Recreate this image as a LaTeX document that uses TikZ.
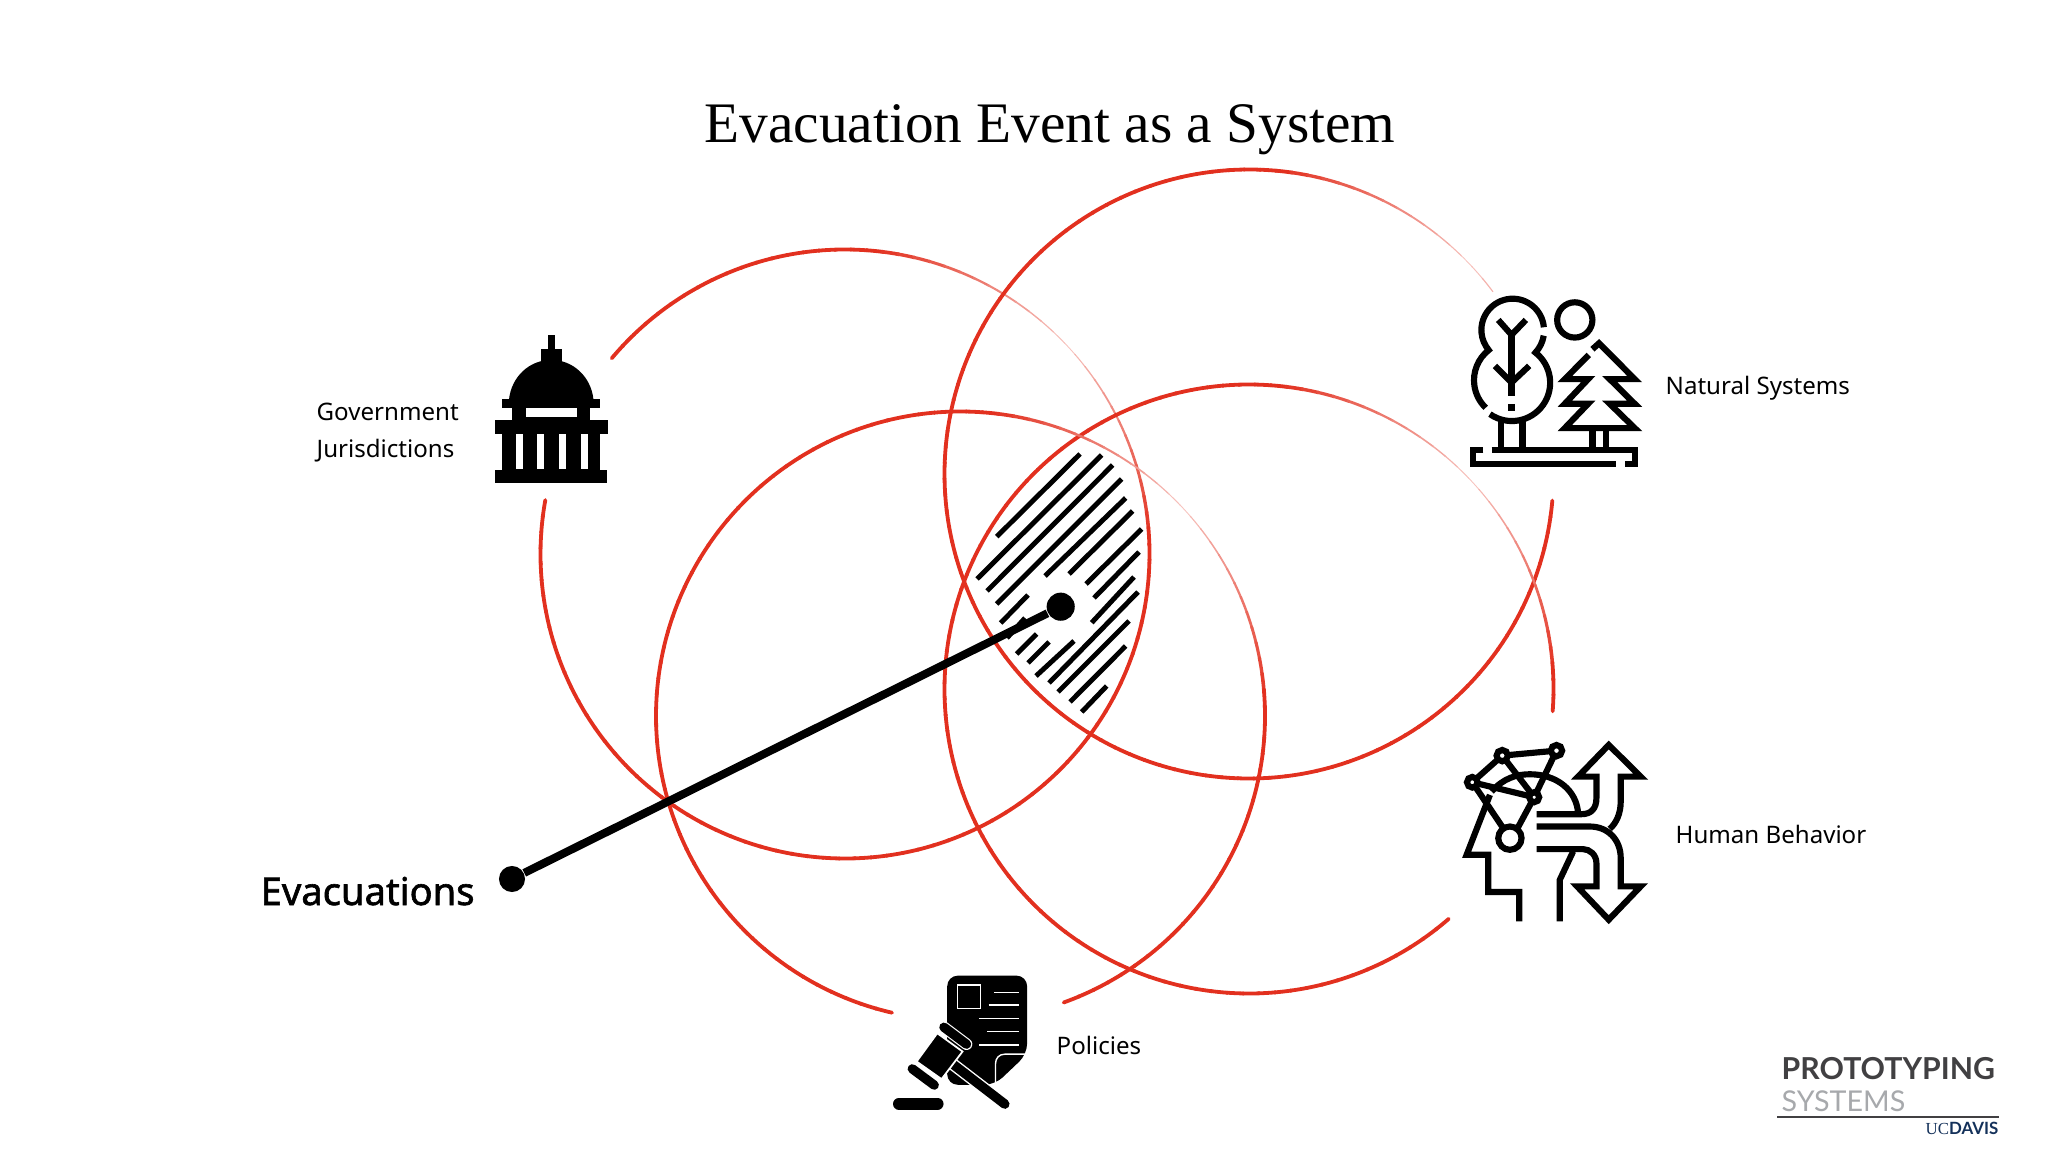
\documentclass[tikz,border=0pt]{standalone}
\usepackage{fontspec}
\setmainfont{Noto Sans}
\newfontfamily\evacfont{Noto Sans}[FakeBold=1.6]
\newfontfamily\titlefont{Liberation Serif}
\newfontfamily\logofont{Lato}
\usetikzlibrary{positioning}
\definecolor{ringred}{HTML}{E2301F}
\definecolor{logodark}{HTML}{414042}
\definecolor{logolight}{HTML}{A7A9AC}
\definecolor{logonavy}{HTML}{14315A}

\begin{document}
\begin{tikzpicture}[
        x=0.01cm,
        y=-0.01cm,
        label/.style={anchor=base west, inner sep=0pt, font=\fontsize{6.85}{9}\selectfont},
        ringseg/.style={line cap=round},
        hatch/.style={draw=black, line width=1.4pt},
        dot/.style={circle, fill=black, inner sep=0pt, minimum size=#1},
        leader/.style={draw, line width=2.3pt},
        icon/.style={draw=black, line width=1.75pt, line join=miter},
        zoomed/.style={x=0.00333cm, y=-0.00333cm}
    ]
        \useasboundingbox (0,0) rectangle (2048,1152);

        % rings: centre x, centre y, first angle, last angle
        \foreach \ringx/\ringy/\ringa/\ringb in {845/554/220/547, 1249/474/5/320, 1249/689/49/362, 960.5/716/103/428} {
            \pgfmathsetmacro\ringnext{\ringa+3}
            \foreach \t in {\ringa,\ringnext,...,\ringb} {
                \pgfmathsetmacro\offs{mod(\t+405,360)}
                \pgfmathsetmacro\fade{max(0,1-min(\offs,360-\offs)/40)}
                \pgfmathtruncatemacro\inkpct{100-72*\fade}
                \draw[ringseg, draw=ringred!\inkpct!white, line width={(3.8-3*\fade)*0.2845pt}]
                    (\ringx,\ringy) ++(\t:304.5) arc[start angle=\t, delta angle=3.2, radius=304.5];
            }
        }

        % hatching
        \foreach \xa/\ya/\xb/\yb in {
            996.7/536.7/1080/454, 977/579/1101.7/455, 987/591/1112.7/465, 996.7/604/1121.7/479,
            1000.7/623/1028/595, 1045/576/1125.7/498, 1069/574/1132.7/511, 1086/584/1141.7/529,
            1094/598/1139/552, 1091.7/622.7/1134/577, 1007/638/1025/618, 1016.7/654/1036.7/634,
            1028/663/1049/642, 1036/676/1074/641, 1049/683/1138/592, 1058/692/1129/621,
            1070/702/1125.7/646, 1081.7/712/1106.7/686} {
            \draw[hatch] (\xa,\ya) -- (\xb,\yb);
        }

        % title and labels
        \node[anchor=base, inner sep=0pt, font=\titlefont\fontsize{16.3}{20}\selectfont] (title) at (1050,143) {Evacuation Event as a System};
        \node[label] (government) at (316,421) {Government};
        \node[label] (jurisdictions) at (316,458) {Jurisdictions};
        \node[label] (natural) at (1665,395) {Natural Systems};
        \node[label] (human) at (1675,843) {Human Behavior};
        \node[label] (policies) at (1056,1054) {Policies};
        \node[label, font=\evacfont\fontsize{10.85}{12}\selectfont] (evacuations) at (260,905) {Evacuations};

        % leader
        \node[dot=7.4pt] (evacstart) at (512,879) {};
        \node[dot=8pt] (evachub) at (1060.7,606.7) {};
        \path[leader] (evacstart) -- (evachub);

        % capitol
        \begin{scope}[shift={(280,300)}, zoomed]
            \fill (806,105) rectangle (825,150);
            \fill (785,148) rectangle (847,190);
            \fill (688,300) .. controls (695,230) and (750,180) .. (815,180) .. controls (880,180) and (935,230) .. (942,300) -- cycle;
            \fill (667,296) rectangle (963,326);
            \fill (698,324) rectangle (932,362);
            \fill[white] (738,325) rectangle (892,352);
            \fill (645,360) rectangle (985,402);
            \fill (667,400) rectangle (962,512);
            \foreach \slot in {708,772,838,903} {
                \fill[white] (\slot,402) rectangle ++(22,106);
            }
            \fill (645,510) rectangle (983,550);
        \end{scope}

        % trees
        \begin{scope}[shift={(1440,280)}, zoomed, line cap=butt]
            \draw[icon] (405,120) circle[radius=53];
            \draw[icon] (312,142) arc[start angle=-5, end angle=-220, radius=94] arc[start angle=232, end angle=134, radius=115];
            \draw[icon] (150,403) arc[start angle=125, end angle=-52, radius=115] arc[start angle=43, end angle=9, radius=97];
            \draw[icon] (215,165) -- (215,350);
            \draw[icon] (215,372) -- (215,393);
            \draw[icon] (175,120) -- (215,165) -- (258,120);
            \draw[icon] (165,258) -- (215,308) -- (268,258);
            \draw[icon] (182,425) -- (182,510);
            \draw[icon] (248,425) -- (248,510);
            \draw[icon] (155,510) -- (585,510) -- (585,553) -- (555,553);
            \draw[icon] (130,510) -- (98,510) -- (98,553) -- (530,553);
            \draw[icon] (458,208) -- (478,190) -- (585,298) -- (510,298) -- (585,372) -- (510,372) -- (585,445) -- (375,445) -- (445,372) -- (375,372) -- (445,298) -- (375,298) -- (447,225);
            \draw[icon] (458,450) -- (458,505);
            \draw[icon] (500,450) -- (500,505);
        \end{scope}

        % head and arrows
        \begin{scope}[shift={(1440,730)}, zoomed]
            \draw[icon] (97,157) -- (187,77) -- (350,62) -- (283,202) -- (187,77);
            \draw[icon] (97,157) -- (283,202) -- (233,295);
            \draw[icon] (97,157) -- (190,295);
            \draw[icon, fill=white] (97,157) circle[radius=16];
            \draw[icon, fill=white] (187,77) circle[radius=17];
            \draw[icon, fill=white] (350,62) circle[radius=17];
            \draw[icon, fill=white] (283,202) circle[radius=15];
            \draw[icon, fill=white] (210,325) circle[radius=35];
            \draw[icon] (150,195) -- (80,375) -- (145,375) -- (145,487) -- (238,487) -- (238,575);
            \draw[icon] (155,185) .. controls (190,145) and (230,133) .. (270,133) .. controls (350,133) and (410,180) .. (415,250);
            \draw[icon] (290,253) -- (425,253) .. controls (455,253) and (470,235) .. (470,205) -- (470,140) -- (415,140) -- (507,45) -- (603,140) -- (543,140) -- (543,215) .. controls (543,250) and (530,280) .. (510,297);
            \draw[icon] (290,290) -- (450,290) .. controls (505,290) and (543,330) .. (543,385) -- (543,470) -- (603,470) -- (507,570) -- (412,470) -- (470,470) -- (470,400) .. controls (470,375) and (450,358) .. (430,358) -- (290,358);
            \draw[icon] (400,365) -- (360,450) -- (360,575);
        \end{scope}

        % gavel and paper
        \begin{scope}[shift={(880,960)}, zoomed]
            \fill[rounded corners=3pt] (202,47) -- (442,47) -- (442,283) -- (345,375) -- (202,375) -- cycle;
            \draw[white, line width=0.4pt] (232,75) rectangle (302,145);
            \foreach \linex/\liney in {343/97, 326/135, 298/175, 322/215, 298/255} {
                \draw[white, line width=0.4pt] (\linex,\liney) -- (417,\liney);
            }
            \draw[white, line width=0.4pt] (347,375) -- (347,312) .. controls (347,295) and (358,283) .. (375,283) -- (442,283);
            \draw[white, line width=3.5pt] (215,310) -- (375,433);
            \draw[black, line width=2.7pt, line cap=round] (215,310) -- (375,433);
            \fill[draw=white, line width=0.5pt] (172,220) -- (248,275) -- (185,358) -- (110,305) -- cycle;
            \draw[white, line width=3.3pt, line cap=round] (192,202) -- (260,253);
            \draw[black, line width=2.65pt, line cap=round] (192,202) -- (260,253);
            \draw[white, line width=3.3pt, line cap=round] (97,327) -- (163,376);
            \draw[black, line width=2.65pt, line cap=round] (97,327) -- (163,376);
            \draw[black, line width=3.4pt, line cap=round] (57,432) -- (173,432);
        \end{scope}

        % logo
        \node[anchor=base west, inner sep=0pt, text=logodark, font=\logofont\fontsize{8.6}{11}\selectfont\bfseries] (prototyping) at (1781,1079) {PROTOTYPING};
        \node[anchor=base west, inner sep=0pt, text=logolight, font=\logofont\fontsize{8.15}{10}\selectfont] (systems) at (1781,1111) {SYSTEMS};
        \draw[line width=0.4pt, logodark] (1777,1117) -- (1999,1117);
        \node[anchor=base east, inner sep=0pt, text=logonavy, font=\fontsize{4.8}{6}\selectfont] (davis) at (1999,1134) {{\titlefont UC}{\logofont\bfseries DAVIS}};
    \end{tikzpicture}
\end{document}
